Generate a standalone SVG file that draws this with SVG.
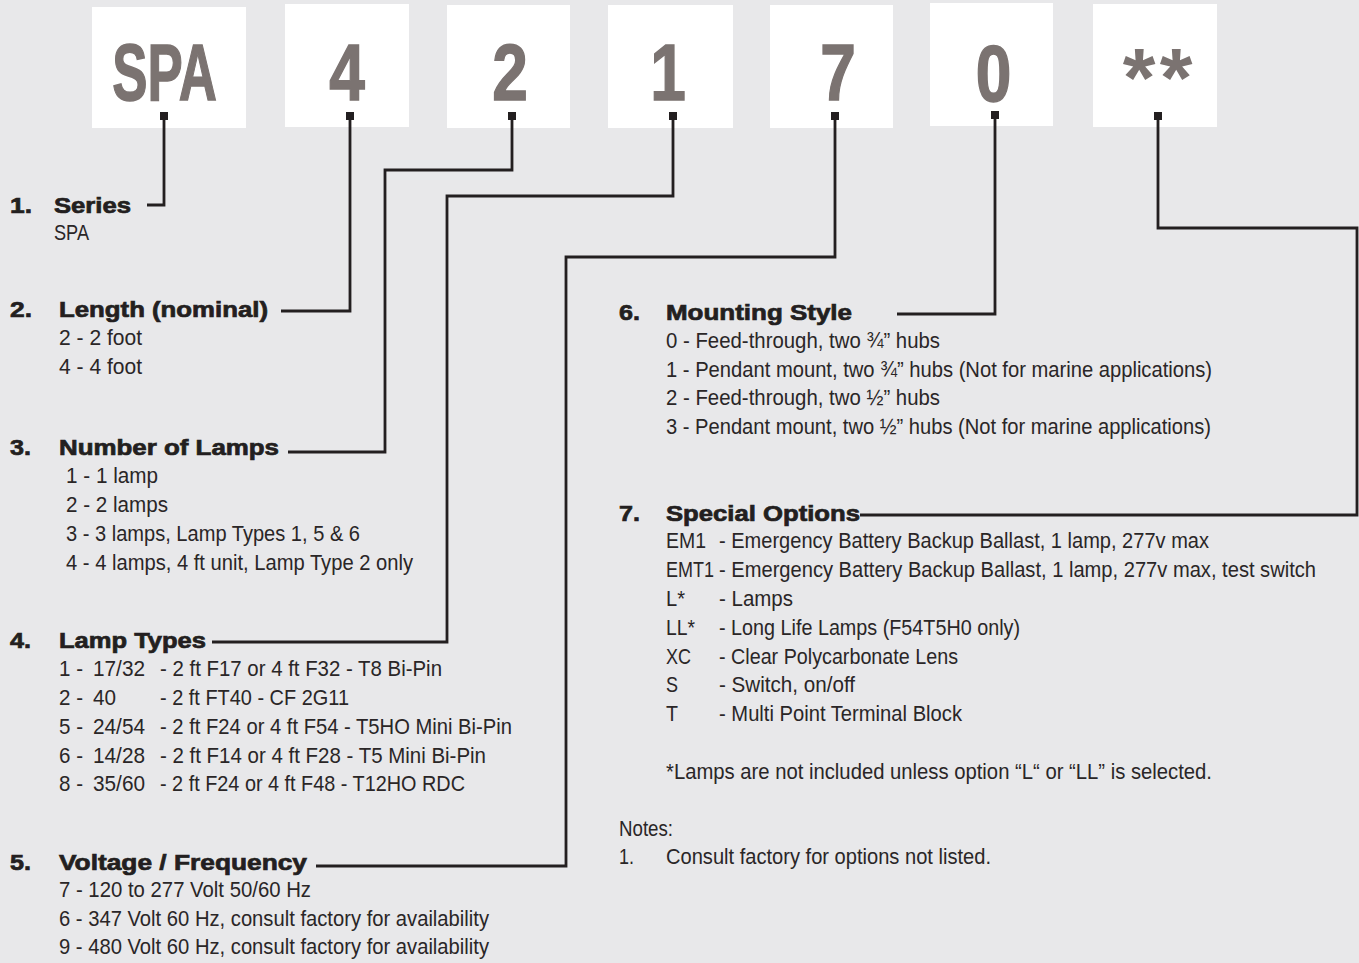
<svg xmlns="http://www.w3.org/2000/svg" width="1359" height="963" viewBox="0 0 1359 963">
<style>
.box{fill:#ffffff}
.big{font-family:"Liberation Sans",Arial,sans-serif;font-weight:bold;font-size:80px;fill:#7b7371;stroke:#7b7371;stroke-width:1.5;text-anchor:middle}
.ast{font-family:"Liberation Sans",Arial,sans-serif;font-weight:bold;font-size:84px;fill:#7b7371;text-anchor:middle}
.h{font-family:"Liberation Sans",Arial,sans-serif;font-weight:bold;font-size:22px;fill:#231f20;stroke:#231f20;stroke-width:0.7}
.t{font-family:"Liberation Sans",Arial,sans-serif;font-size:21.5px;fill:#2a2627}
.ln{fill:none;stroke:#231f20;stroke-width:2.8;stroke-linejoin:miter;stroke-linecap:butt}
.sq{fill:#231f20}
</style>
<rect width="1359" height="963" fill="#e8e8ea"/>

<g id="box-spa"><rect class="box" x="92" y="7" width="154" height="121"/><text class="big" transform="translate(164.5,100) scale(0.66,1)">SPA</text></g>
<g id="box-4"><rect class="box" x="285" y="4" width="124" height="123"/><text class="big" transform="translate(347,100) scale(0.8,1)">4</text></g>
<g id="box-2"><rect class="box" x="447" y="5" width="123" height="123"/><text class="big" transform="translate(510,100) scale(0.8,1)">2</text></g>
<g id="box-1"><rect class="box" x="608" y="5" width="125" height="123"/><text class="big" transform="translate(668,100) scale(0.8,1)">1</text></g>
<g id="box-7"><rect class="box" x="770" y="5" width="123" height="123"/><text class="big" transform="translate(838,100) scale(0.8,1)">7</text></g>
<g id="box-0"><rect class="box" x="930" y="3" width="123" height="123"/><text class="big" transform="translate(993.5,101) scale(0.8,1)">0</text></g>
<g id="box-opt"><rect class="box" x="1093" y="4" width="124" height="123"/><text class="ast" x="1139" y="107">*</text><text class="ast" x="1176" y="107">*</text></g>

<g id="connectors">
<path class="ln" d="M164,119 V205 H147"/>
<path class="ln" d="M350,119 V311 H281"/>
<path class="ln" d="M512,119 V170 H385 V452 H288"/>
<path class="ln" d="M673,119 V196 H447 V642 H212"/>
<path class="ln" d="M835,119 V257 H566 V866 H316"/>
<path class="ln" d="M995,119 V314 H897"/>
<path class="ln" d="M1158,119 V228 H1357 V515 H860"/>
<rect class="sq" x="160" y="112" width="8" height="8"/>
<rect class="sq" x="346" y="112" width="8" height="8"/>
<rect class="sq" x="508" y="112" width="8" height="8"/>
<rect class="sq" x="669" y="112" width="8" height="8"/>
<rect class="sq" x="831" y="112" width="8" height="8"/>
<rect class="sq" x="991" y="111" width="8" height="8"/>
<rect class="sq" x="1154" y="112" width="8" height="8"/>
</g>

<g id="sec-series">
<text class="h" x="10" y="213" textLength="22" lengthAdjust="spacingAndGlyphs">1.</text>
<text class="h" x="54" y="213" textLength="77" lengthAdjust="spacingAndGlyphs">Series</text>
<text class="t" x="54" y="240" textLength="35" lengthAdjust="spacingAndGlyphs">SPA</text>
</g>

<g id="sec-length">
<text class="h" x="10" y="317" textLength="22" lengthAdjust="spacingAndGlyphs">2.</text>
<text class="h" x="59" y="317" textLength="209" lengthAdjust="spacingAndGlyphs">Length (nominal)</text>
<text class="t" x="59" y="345" textLength="83" lengthAdjust="spacingAndGlyphs">2 - 2 foot</text>
<text class="t" x="59" y="374" textLength="83" lengthAdjust="spacingAndGlyphs">4 - 4 foot</text>
</g>

<g id="sec-lamps">
<text class="h" x="10" y="455" textLength="21" lengthAdjust="spacingAndGlyphs">3.</text>
<text class="h" x="59" y="455" textLength="220" lengthAdjust="spacingAndGlyphs">Number of Lamps</text>
<text class="t" x="66" y="483" textLength="92" lengthAdjust="spacingAndGlyphs">1 - 1 lamp</text>
<text class="t" x="66" y="512" textLength="102" lengthAdjust="spacingAndGlyphs">2 - 2 lamps</text>
<text class="t" x="66" y="541" textLength="294" lengthAdjust="spacingAndGlyphs">3 - 3 lamps, Lamp Types 1, 5 &amp; 6</text>
<text class="t" x="66" y="570" textLength="347" lengthAdjust="spacingAndGlyphs">4 - 4 lamps, 4 ft unit, Lamp Type 2 only</text>
</g>

<g id="sec-lamptypes">
<text class="h" x="10" y="648" textLength="21" lengthAdjust="spacingAndGlyphs">4.</text>
<text class="h" x="59" y="648" textLength="147" lengthAdjust="spacingAndGlyphs">Lamp Types</text>
<text class="t" x="59" y="676" textLength="24" lengthAdjust="spacingAndGlyphs">1 -</text><text class="t" x="93" y="676" textLength="52" lengthAdjust="spacingAndGlyphs">17/32</text><text class="t" x="160" y="676" textLength="282" lengthAdjust="spacingAndGlyphs">- 2 ft F17 or 4 ft F32 - T8 Bi-Pin</text>
<text class="t" x="59" y="705" textLength="24" lengthAdjust="spacingAndGlyphs">2 -</text><text class="t" x="93" y="705" textLength="23" lengthAdjust="spacingAndGlyphs">40</text><text class="t" x="160" y="705" textLength="189" lengthAdjust="spacingAndGlyphs">- 2 ft FT40 - CF 2G11</text>
<text class="t" x="59" y="734" textLength="24" lengthAdjust="spacingAndGlyphs">5 -</text><text class="t" x="93" y="734" textLength="52" lengthAdjust="spacingAndGlyphs">24/54</text><text class="t" x="160" y="734" textLength="352" lengthAdjust="spacingAndGlyphs">- 2 ft F24 or 4 ft F54 - T5HO Mini Bi-Pin</text>
<text class="t" x="59" y="763" textLength="24" lengthAdjust="spacingAndGlyphs">6 -</text><text class="t" x="93" y="763" textLength="52" lengthAdjust="spacingAndGlyphs">14/28</text><text class="t" x="160" y="763" textLength="326" lengthAdjust="spacingAndGlyphs">- 2 ft F14 or 4 ft F28 - T5 Mini Bi-Pin</text>
<text class="t" x="59" y="791" textLength="24" lengthAdjust="spacingAndGlyphs">8 -</text><text class="t" x="93" y="791" textLength="52" lengthAdjust="spacingAndGlyphs">35/60</text><text class="t" x="160" y="791" textLength="305" lengthAdjust="spacingAndGlyphs">- 2 ft F24 or 4 ft F48 - T12HO RDC</text>
</g>

<g id="sec-voltage">
<text class="h" x="10" y="870" textLength="21" lengthAdjust="spacingAndGlyphs">5.</text>
<text class="h" x="59" y="870" textLength="248" lengthAdjust="spacingAndGlyphs">Voltage / Frequency</text>
<text class="t" x="59" y="897" textLength="252" lengthAdjust="spacingAndGlyphs">7 - 120 to 277 Volt 50/60 Hz</text>
<text class="t" x="59" y="926" textLength="430" lengthAdjust="spacingAndGlyphs">6 - 347 Volt 60 Hz, consult factory for availability</text>
<text class="t" x="59" y="954" textLength="430" lengthAdjust="spacingAndGlyphs">9 - 480 Volt 60 Hz, consult factory for availability</text>
</g>

<g id="sec-mounting">
<text class="h" x="619" y="320" textLength="21" lengthAdjust="spacingAndGlyphs">6.</text>
<text class="h" x="666" y="320" textLength="186" lengthAdjust="spacingAndGlyphs">Mounting Style</text>
<text class="t" x="666" y="348" textLength="274" lengthAdjust="spacingAndGlyphs">0 - Feed-through, two ¾” hubs</text>
<text class="t" x="666" y="377" textLength="546" lengthAdjust="spacingAndGlyphs">1 - Pendant mount, two ¾” hubs (Not for marine applications)</text>
<text class="t" x="666" y="405" textLength="274" lengthAdjust="spacingAndGlyphs">2 - Feed-through, two ½” hubs</text>
<text class="t" x="666" y="434" textLength="545" lengthAdjust="spacingAndGlyphs">3 - Pendant mount, two ½” hubs (Not for marine applications)</text>
</g>

<g id="sec-options">
<text class="h" x="619" y="521" textLength="21" lengthAdjust="spacingAndGlyphs">7.</text>
<text class="h" x="666" y="521" textLength="194" lengthAdjust="spacingAndGlyphs">Special Options</text>
<text class="t" x="666" y="548" textLength="40" lengthAdjust="spacingAndGlyphs">EM1</text><text class="t" x="719" y="548" textLength="490" lengthAdjust="spacingAndGlyphs">- Emergency Battery Backup Ballast, 1 lamp, 277v max</text>
<text class="t" x="666" y="577" textLength="48" lengthAdjust="spacingAndGlyphs">EMT1</text><text class="t" x="719" y="577" textLength="597" lengthAdjust="spacingAndGlyphs">- Emergency Battery Backup Ballast, 1 lamp, 277v max, test switch</text>
<text class="t" x="666" y="606" textLength="19" lengthAdjust="spacingAndGlyphs">L*</text><text class="t" x="719" y="606" textLength="74" lengthAdjust="spacingAndGlyphs">- Lamps</text>
<text class="t" x="666" y="635" textLength="29" lengthAdjust="spacingAndGlyphs">LL*</text><text class="t" x="719" y="635" textLength="301" lengthAdjust="spacingAndGlyphs">- Long Life Lamps (F54T5H0 only)</text>
<text class="t" x="666" y="664" textLength="25" lengthAdjust="spacingAndGlyphs">XC</text><text class="t" x="719" y="664" textLength="239" lengthAdjust="spacingAndGlyphs">- Clear Polycarbonate Lens</text>
<text class="t" x="666" y="692" textLength="12" lengthAdjust="spacingAndGlyphs">S</text><text class="t" x="719" y="692" textLength="136" lengthAdjust="spacingAndGlyphs">- Switch, on/off</text>
<text class="t" x="666" y="721" textLength="12" lengthAdjust="spacingAndGlyphs">T</text><text class="t" x="719" y="721" textLength="243" lengthAdjust="spacingAndGlyphs">- Multi Point Terminal Block</text>
<text class="t" x="666" y="779" textLength="546" lengthAdjust="spacingAndGlyphs">*Lamps are not included unless option “L“ or “LL” is selected.</text>
</g>

<g id="sec-notes">
<text class="t" x="619" y="836" textLength="54" lengthAdjust="spacingAndGlyphs">Notes:</text>
<text class="t" x="619" y="864" textLength="15" lengthAdjust="spacingAndGlyphs">1.</text>
<text class="t" x="666" y="864" textLength="325" lengthAdjust="spacingAndGlyphs">Consult factory for options not listed.</text>
</g>
</svg>
